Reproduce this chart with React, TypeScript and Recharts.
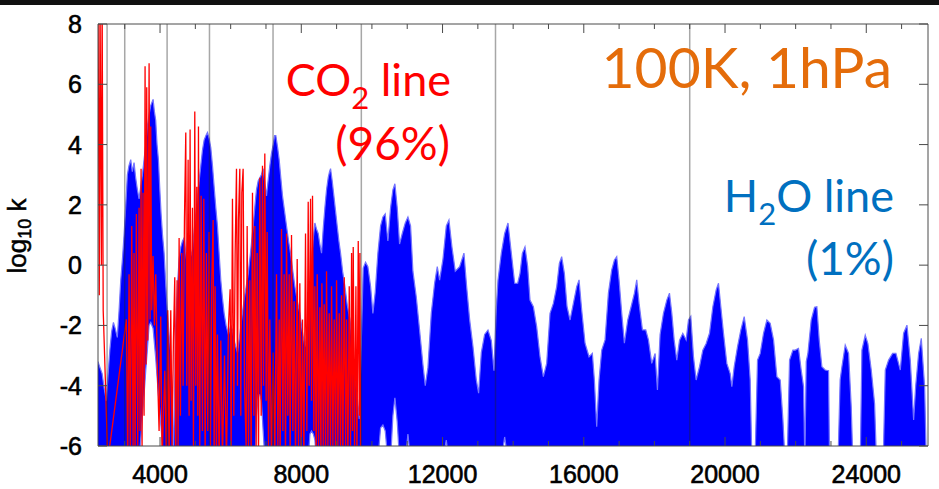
import React from "react";
import { ComposedChart, Area, Line, XAxis, YAxis, ReferenceLine } from "recharts";

// H2O line absorption (blue): wavenumber, upper envelope and lower floor of log10 k
const h2oX = [
  2243, 2300, 2360, 2420, 2480, 2530, 2580, 2630, 2680, 2730, 2790, 2840, 2887, 2935, 2981,
  3030, 3075, 3120, 3170, 3215, 3264, 3310, 3359, 3406, 3453, 3500, 3548, 3595, 3642, 3690,
  3737, 3803, 3840, 3878, 3915, 3954, 3990, 4030, 4070, 4115, 4160, 4209, 4255, 4304, 4340,
  4375, 4410, 4445, 4492, 4540, 4587, 4635, 4681, 4730, 4776, 4820, 4870, 4918, 4970, 5031,
  5090, 5154, 5200, 5248, 5300, 5343, 5390, 5437, 5485, 5532, 5580, 5626, 5673, 5721, 5768,
  5815, 5870, 5938, 6000, 6051, 6120, 6193, 6260, 6330, 6400, 6495, 6570, 6637, 6690, 6731,
  6780, 6826, 6870, 6920, 6970, 7015, 7060, 7109, 7155, 7204, 7245, 7279, 7330, 7374, 7420,
  7468, 7525, 7582, 7640, 7695, 7760, 7818, 7890, 7959, 8030, 8101, 8150, 8196, 8245, 8290,
  8340, 8385, 8430, 8479, 8525, 8574, 8620, 8668, 8715, 8762, 8800, 8829, 8875, 8923, 8970,
  9017, 9065, 9112, 9170, 9235, 9300, 9377, 9450, 9518, 9580, 9641, 9700, 9754, 9820, 9886,
  9962, 10028, 10094, 10169, 10245, 10311, 10377, 10453, 10528, 10594, 10651, 10717, 10783, 10859, 10944,
  11020, 11095, 11161, 11256, 11350, 11445, 11511, 11586, 11681, 11775, 11851, 11917, 12012, 12106, 12182,
  12267, 12361, 12484, 12607, 12682, 12767, 12862, 12956, 13022, 13098, 13192, 13287, 13381, 13457, 13520,
  13570, 13665, 13759, 13854, 13948, 14043, 14128, 14194, 14260, 14335, 14411, 14477, 14572, 14666, 14761,
  14855, 14949, 15044, 15138, 15233, 15308, 15374, 15450, 15526, 15611, 15705, 15800, 15866, 15941, 16036,
  16149, 16243, 16300, 16366, 16432, 16508, 16602, 16697, 16791, 16867, 16933, 16999, 17075, 17150, 17245,
  17340, 17434, 17500, 17566, 17661, 17755, 17831, 17925, 18020, 18086, 18161, 18256, 18351, 18427, 18493,
  18559, 18634, 18710, 18804, 18899, 18965, 19031, 19107, 19182, 19277, 19371, 19466, 19560, 19655, 19749,
  19815, 19881, 19957, 20051, 20146, 20193, 20259, 20354, 20448, 20543, 20637, 20713, 20760, 20850, 20920,
  20996, 21090, 21185, 21279, 21374, 21468, 21563, 21638, 21700, 21760, 21827, 21922, 21987, 22081, 22157,
  22223, 22260, 22300, 22346, 22440, 22535, 22601, 22667, 22743, 22837, 22932, 22960, 23200, 23260, 23310,
  23404, 23499, 23574, 23620, 23830, 23876, 23971, 24046, 24141, 24235, 24290, 24480, 24538, 24632, 24746,
  24840, 24963, 25057, 25152, 25246, 25341, 25400, 25482, 25558, 25652, 25700, 25748,
];
const h2oHi = [
  -3.2, -3.4, -3.6, -4.1, -4.5, -3.6, -2.8, -2.2, -1.9, -2.1, -2.4, -1.5, -0.5, 0.2, 1.0,
  2.0, 3.0, 3.3, 3.5, 3.1, 3.4, 2.9, 2.5, 2.2, 2.6, 3.0, 3.5, 4.0, 4.6, 5.0,
  5.3, 5.5, 5.1, 4.8, 4.0, 3.5, 2.6, 1.7, 1.0, 0.4, -0.6, -1.6, -2.3, -2.9, -4.0,
  -6.5, -4.5, -2.0, -0.7, 0.2, 0.6, 0.8, 0.9, 0.4, -0.05, 0.2, 0.3, 0.5, 1.2, 1.9,
  2.6, 3.3, 3.8, 4.15, 4.3, 4.4, 4.2, 3.9, 3.3, 2.6, 1.9, 1.3, 0.4, -0.5, -1.1,
  -1.6, -2.0, -2.3, -2.0, -2.15, -2.6, -2.9, -2.3, -1.6, -1.0, -0.3, 0.5, 1.3, 2.0, 2.5,
  2.8, 2.9, 3.0, 3.2, 2.7, 2.3, 2.8, 3.3, 3.7, 4.0, 4.3, 4.3, 3.9, 3.5, 2.9,
  2.3, 1.8, 1.3, 0.8, 0.4, -0.2, -0.7, -1.2, -1.6, -2.2, -2.7, -2.4, -1.8, -0.8, 0.2,
  0.9, 1.4, 1.2, 1.05, 0.7, 0.4, 1.2, 1.9, 2.5, 2.9, 3.1, 3.2, 2.8, 2.3, 1.8,
  1.3, 0.8, 0.4, -0.2, -0.7, -1.3, -1.8, -2.7, -3.5, -4.3, -5.1, -2.5, -0.1, 0.1, -0.05,
  -0.7, -1.6, -0.9, 0.4, 1.3, 1.6, 1.7, 0.8, 1.9, 2.5, 2.7, 1.9, 0.7, 1.05, 1.4,
  1.6, 1.3, -0.2, -1.05, -2.15, -3.3, -4.0, -3.4, -1.6, -0.6, -0.05, -0.5, 0.2, 1.3, 1.5,
  0.6, -0.2, -0.05, 0.4, -0.7, -1.8, -2.7, -3.8, -4.25, -2.9, -2.3, -2.15, -2.5, -3.5, -1.5,
  -0.5, 0.4, 1.05, 1.4, 0.4, -0.6, -0.6, -0.27, 0.39, 0.61, -0.05, -1.16, -1.38, -2.04, -3.04,
  -3.7, -3.26, -1.6, -1.27, -0.71, 0.06, 0.28, -0.27, -1.38, -1.82, -1.27, -0.71, -0.49, -1.49, -2.59,
  -3.04, -2.93, -3.81, -5.36, -3.81, -2.82, -2.48, -0.93, -0.16, 0.17, 0.28, -0.49, -1.6, -2.59, -1.82,
  -1.38, -0.93, -0.49, -1.27, -2.15, -2.15, -2.48, -3.26, -2.93, -4.14, -2.3, -1.6, -1.16, -0.93, -1.6,
  -2.48, -3.15, -2.5, -2.26, -2.48, -1.82, -1.7, -3.04, -3.81, -3.37, -2.82, -2.6, -2.26, -1.38, -0.82,
  -0.6, -1.38, -2.26, -3.26, -3.6, -4.03, -3.37, -2.7, -2.15, -1.71, -2.48, -3.81, -6.5, -6.5, -3.15,
  -2.93, -2.26, -1.82, -1.93, -2.48, -3.7, -3.81, -5.1, -6.5, -6.5, -3.15, -2.82, -2.82, -2.76, -3.48,
  -4.03, -6.5, -3.2, -2.93, -1.82, -1.4, -1.38, -2.48, -3.37, -3.48, -3.5, -6.5, -6.5, -3.8, -3.37,
  -2.65, -2.93, -4.7, -6.5, -6.5, -2.82, -2.32, -2.6, -3.48, -4.59, -6.5, -6.5, -3.48, -3.15, -2.93,
  -2.93, -3.48, -2.26, -1.99, -3.15, -5.14, -4.0, -2.93, -2.43, -4.03, -6.5, -6.5,
];
const h2oLo = [
  -6.5, -6.5, -6.5, -6.5, -6.5, -6.5, -6.5, -6.5, -6.5, -6.5, -6.5, -6.5, -6.5, -6.5, -6.5,
  -6.5, -6.5, -6.5, -6.5, -6.5, -6.5, -6.5, -6.5, -6.5, -5.8, -5.0, -4.3, -3.5, -2.8, -2.0,
  -1.9, -2.1, -2.6, -3.1, -3.7, -4.3, -4.8, -5.4, -6.0, -6.5, -6.5, -6.5, -6.5, -6.5, -6.5,
  -6.5, -6.5, -6.5, -6.5, -6.5, -6.5, -6.5, -6.5, -6.5, -6.5, -6.5, -6.5, -6.5, -6.5, -6.5,
  -6.5, -6.5, -6.5, -6.5, -6.5, -6.5, -6.5, -6.5, -6.5, -6.5, -6.5, -6.5, -6.5, -6.5, -6.5,
  -6.5, -6.5, -6.5, -6.5, -6.5, -6.5, -6.5, -6.5, -6.5, -6.5, -6.5, -6.5, -6.5, -6.5, -5.0,
  -4.3, -4.3, -4.5, -5.5, -6.5, -6.5, -6.5, -6.5, -6.5, -6.5, -6.5, -6.5, -6.5, -6.5, -6.5,
  -6.5, -6.5, -6.5, -6.5, -6.5, -6.5, -6.5, -6.5, -6.5, -6.5, -6.5, -6.5, -6.5, -5.6, -5.5,
  -5.6, -5.8, -6.5, -6.5, -6.5, -6.5, -6.5, -6.5, -6.5, -6.5, -6.5, -6.5, -6.5, -6.5, -6.5,
  -6.5, -6.5, -6.5, -6.5, -6.5, -6.5, -6.5, -6.5, -6.5, -6.5, -6.5, -6.5, -6.5, -6.5, -6.5,
  -6.5, -6.5, -6.5, -6.5, -5.4, -5.3, -5.5, -6.5, -6.5, -5.0, -4.4, -5.2, -6.5, -6.5, -6.5,
  -5.6, -6.5, -6.5, -6.5, -6.5, -6.5, -6.5, -6.5, -6.5, -6.5, -6.5, -6.5, -6.5, -5.8, -6.5,
  -6.5, -6.5, -6.5, -6.5, -6.5, -6.5, -6.5, -6.5, -6.5, -6.5, -6.5, -6.5, -6.5, -6.5, -6.5,
  -6.5, -6.5, -5.7, -6.5, -6.5, -6.5, -6.5, -6.5, -6.5, -6.5, -6.5, -6.5, -6.5, -6.5, -6.5,
  -6.5, -6.5, -6.5, -6.5, -6.5, -6.5, -6.5, -6.5, -6.5, -6.5, -6.5, -6.5, -6.5, -6.5, -6.5,
  -6.5, -6.5, -6.5, -6.5, -6.5, -6.5, -6.5, -6.5, -6.5, -6.5, -6.5, -6.5, -6.5, -6.5, -6.5,
  -6.5, -6.5, -6.5, -6.5, -6.5, -6.5, -6.5, -6.5, -6.5, -6.5, -6.5, -6.5, -6.5, -6.5, -6.5,
  -6.5, -6.5, -6.5, -6.5, -6.5, -6.5, -6.5, -6.5, -6.5, -6.5, -6.5, -6.5, -6.5, -6.5, -6.5,
  -6.5, -6.5, -6.5, -6.5, -6.5, -6.5, -6.5, -6.5, -6.5, -6.5, -6.5, -6.5, -6.5, -6.5, -6.5,
  -6.5, -6.5, -6.5, -6.5, -6.5, -6.5, -6.5, -6.5, -6.5, -6.5, -6.5, -6.5, -6.5, -6.5, -6.5,
  -6.5, -6.5, -6.5, -6.5, -6.5, -6.5, -6.5, -6.5, -6.5, -6.5, -6.5, -6.5, -6.5, -6.5, -6.5,
  -6.5, -6.5, -6.5, -6.5, -6.5, -6.5, -6.5, -6.5, -6.5, -6.5, -6.5, -6.5, -6.5, -6.5, -6.5,
  -6.5, -6.5, -6.5, -6.5, -6.5, -6.5, -6.5, -6.5, -6.5, -6.5, -6.5, -6.5,
];

// CO2 line absorption (red): peaks and troughs of the line forest
const co2X = [
  2243, 2280, 2300, 2340, 2360, 2390, 2430, 2520,
  3047, 3085, 3123, 3160, 3198, 3236, 3264, 3293, 3330, 3368, 3406, 3434,
  3463, 3491, 3519, 3548, 3576, 3605, 3623, 3652, 3690, 3718, 3737, 3765,
  3803, 3840, 3878, 3926, 3973, 4020, 4058, 4134, 4181, 4219, 4256, 4304,
  4341, 4379, 4417, 4445, 4483, 4511, 4540, 4577, 4615, 4653, 4691, 4729,
  4757, 4795, 4823, 4851, 4880, 4918, 4946, 4984, 5012, 5040, 5069, 5088,
  5125, 5163, 5201, 5239, 5277, 5314, 5352, 5390, 5428, 5466, 5503, 5532,
  5560, 5598, 5626, 5673, 5721, 5768, 5825, 5881, 5938, 5985, 6013, 6051,
  6089, 6127, 6165, 6193, 6221, 6259, 6287, 6316, 6353, 6391, 6438, 6467,
  6505, 6542, 6580, 6618, 6656, 6684, 6722, 6750, 6788, 6826, 6864, 6901,
  6930, 6967, 7005, 7034, 7071, 7109, 7156, 7204, 7251, 7298, 7336, 7374,
  7402, 7440, 7478, 7515, 7553, 7582, 7619, 7657, 7685, 7723, 7761, 7799,
  7837, 7884, 7922, 7959, 7997, 8035, 8073, 8120, 8158, 8196, 8224, 8262,
  8290, 8318, 8356, 8385, 8422, 8451, 8489, 8526, 8555, 8583, 8621, 8649,
  8687, 8715, 8753, 8791, 8829, 8857, 8895, 8933, 8970, 8999, 9036, 9074,
  9112, 9140, 9178, 9216, 9254, 9282, 9320, 9358, 9395, 9424, 9452, 9471,
  9509, 9547, 9575, 9613, 9641, 9660, 9679,
];
const co2Y = [
  9, -1, 9, 0, 9, -1.5, -3, -6.5,
  -1.8, -6.5, -0.3, -6.5, 1.3, -6, 0.4, -6.5, 1.7, -6, 1.9, -5.5,
  3.2, -6, 2.4, -5, 6.6, -3.3, 5.9, -2.5, 6.7, -1.8, 4.6, -1.5,
  0.3, -2, -0.3, -3.5, -5.5, -1.7, -6.5, -3.5, -6.5, -1.5, -6.5, -1.5,
  -6, -2.5, -0.4, -6.5, -0.5, -6, 0.9, -5, 0.4, -4, 1.5, 4.4,
  -4, 3.5, -5, 4.5, -4.5, 1.9, -6, 5.1, -4, 2.6, -5, 4.6,
  -6, 2.3, -5.5, 2.2, -6.5, 0.4, -5.5, 1.1, -6, -0.5, 1.5, -6.5,
  -0.7, -6.5, -2.3, -6.5, -2.5, -6.5, -3, -6.5, -2, -0.8, -6, 2.2,
  -5, 0.4, 3.2, -4, 1.5, 3.2, -5, 2.4, 3.2, -4, -6, 1.3,
  -6, -0.5, -6.5, 2.4, -5, 1.3, -6, 0.4, -6.5, 2.9, -5, 3.3,
  -4, 3.7, -4.5, 1.1, -6, -1.8, -6.5, -2.9, -6.5, -0.3, -6, -1.8,
  -6.5, 1.2, -5.5, -0.3, -6.5, 1.05, -5, -0.3, -6.5, 1.0, -5.5, -1.2,
  -6.5, 0.2, -6, -0.6, -6.5, -1.8, -6.5, 1.05, -5.5, 2.1, -4, 2.2,
  -4.5, 2.3, -5.5, -0.7, -6.5, -0.3, -6, -1.4, -6.5, -0.6, -6, -1.3,
  -6.5, -0.2, -6, -1.6, -6.5, -0.7, -6, -1.8, -6.5, -0.5, -6, -1.6,
  -6.5, -1.0, -6.5, -0.4, -6, -1.8, -6.5, -0.7, -6, 0.4, -5.5, 0.6,
  -6, -0.7, -6.5, 0.8, -5, 0.4, -6.5,
];

const xMinorTicks = [
  3000, 4000, 5000, 6000, 7000, 8000, 9000, 10000, 11000, 12000, 13000, 14000,
  15000, 16000, 17000, 18000, 19000, 20000, 21000, 22000, 23000, 24000, 25000,
];
const yTicks = [-6, -4, -2, 0, 2, 4, 6, 8];
const bandEdges = [2500, 3000, 4200, 5400, 7200, 9700, 13500, 19000];

const h2oData = h2oX.map((x, i) => ({ x, band: [h2oLo[i], h2oHi[i]] }));
const co2Data = co2X.map((x, i) => ({ x, k: co2Y[i] }));

const AXIS = "#4a4a4a";
const TICK_FONT = "'Liberation Sans', Arial, sans-serif";
const NOTE_FONT = "Lato, 'Open Sans', sans-serif";

const BottomTick = (p: any) => {
  const v = p.payload.value;
  const major = v % 4000 === 0;
  return (
    <g>
      <line x1={p.x} x2={p.x} y1={p.y} y2={p.y - (major ? 9 : 5)} stroke={AXIS} />
      {major && (
        <text
          x={p.x}
          y={p.y + 37}
          textAnchor="middle"
          fontSize={25}
          fill="#000"
          stroke="#000"
          strokeWidth={0.6}
          fontFamily={TICK_FONT}
        >
          {v}
        </text>
      )}
    </g>
  );
};

const TopTick = (p: any) => {
  const major = p.payload.value % 4000 === 0;
  return <line x1={p.x} x2={p.x} y1={p.y} y2={p.y + (major ? 9 : 5)} stroke={AXIS} />;
};

const LeftTick = (p: any) => (
  <g>
    <line x1={p.x} x2={p.x + 9} y1={p.y} y2={p.y} stroke={AXIS} />
    <text
      x={p.x - 16}
      y={p.y}
      dy="0.36em"
      textAnchor="end"
      fontSize={25}
      fill="#000"
      stroke="#000"
      strokeWidth={0.6}
      fontFamily={TICK_FONT}
    >
      {p.payload.value}
    </text>
  </g>
);

const RightTick = (p: any) => <line x1={p.x} x2={p.x - 9} y1={p.y} y2={p.y} stroke={AXIS} />;

export default function App() {
  return (
    <div style={{ position: "absolute", left: 0, top: 0, width: 939, height: 489, background: "#fff" }}>
      <ComposedChart width={939} height={489} margin={{ top: 23, right: 10, bottom: 42, left: 38 }}>
        <XAxis
          xAxisId="x"
          type="number"
          dataKey="x"
          domain={[2243, 25748]}
          allowDataOverflow
          ticks={xMinorTicks}
          interval={0}
          height={1}
          tickSize={0}
          tickMargin={0}
          tickLine={false}
          tick={<BottomTick />}
          axisLine={{ stroke: AXIS }}
        />
        <XAxis
          xAxisId="top"
          orientation="top"
          type="number"
          dataKey="x"
          domain={[2243, 25748]}
          allowDataOverflow
          ticks={xMinorTicks}
          interval={0}
          height={1}
          tickSize={0}
          tickMargin={0}
          tickLine={false}
          tick={<TopTick />}
          axisLine={{ stroke: AXIS }}
        />
        <YAxis
          yAxisId="left"
          type="number"
          domain={[-6, 8]}
          allowDataOverflow
          ticks={yTicks}
          interval={0}
          width={60}
          tickSize={0}
          tickMargin={0}
          tickLine={false}
          tick={<LeftTick />}
          axisLine={{ stroke: AXIS }}
        />
        <YAxis
          yAxisId="right"
          orientation="right"
          type="number"
          domain={[-6, 8]}
          allowDataOverflow
          ticks={yTicks}
          interval={0}
          width={1}
          tickSize={0}
          tickMargin={0}
          tickLine={false}
          tick={<RightTick />}
          axisLine={{ stroke: AXIS }}
        />
        <Area
          xAxisId="x"
          yAxisId="left"
          data={h2oData}
          dataKey="band"
          type="linear"
          fill="#0000ff"
          fillOpacity={1}
          stroke="#7373ff"
          strokeWidth={1.2}
          dot={false}
          activeDot={false}
          isAnimationActive={false}
        />
        <Line
          xAxisId="x"
          yAxisId="left"
          data={co2Data}
          dataKey="k"
          type="linear"
          stroke="#ff0000"
          strokeWidth={1.3}
          dot={false}
          activeDot={false}
          isAnimationActive={false}
        />
        {bandEdges.map((v) => (
          <ReferenceLine
            key={v}
            xAxisId="x"
            yAxisId="left"
            x={v}
            stroke="#222"
            strokeOpacity={0.4}
            strokeWidth={1.5}
          />
        ))}
      </ComposedChart>
      <div style={{ position: "absolute", left: 0, top: 0, width: 939, height: 5, background: "#111" }} />
      <svg
        width={939}
        height={489}
        style={{ position: "absolute", left: 0, top: 0, pointerEvents: "none" }}
      >
        <text
          transform="translate(26,236) rotate(-90)"
          textAnchor="middle"
          fontSize={26}
          fill="#000"
          stroke="#000"
          strokeWidth={0.5}
          fontFamily={TICK_FONT}
        >
          log
          <tspan fontSize={18} dy={5}>10</tspan>
          <tspan dy={-5}>{" k"}</tspan>
        </text>
        <text x={451} y={96} textAnchor="end" fontSize={45} fill="#ff0000" fontFamily={NOTE_FONT}>
          CO
          <tspan fontSize={31} dy={13}>2</tspan>
          <tspan dy={-13}>{" line"}</tspan>
        </text>
        <text x={450} y={160} textAnchor="end" fontSize={46} fill="#ff0000" fontFamily={NOTE_FONT}>
          (96%)
        </text>
        <text x={892} y={88} textAnchor="end" fontSize={57} fill="#e46c0a" fontFamily={NOTE_FONT}>
          100K, 1hPa
        </text>
        <text x={894} y={212} textAnchor="end" fontSize={45} fill="#0070c0" fontFamily={NOTE_FONT}>
          H
          <tspan fontSize={31} dy={13}>2</tspan>
          <tspan dy={-13}>{"O line"}</tspan>
        </text>
        <text x={894} y={275} textAnchor="end" fontSize={46} fill="#0070c0" fontFamily={NOTE_FONT}>
          (1%)
        </text>
      </svg>
    </div>
  );
}
